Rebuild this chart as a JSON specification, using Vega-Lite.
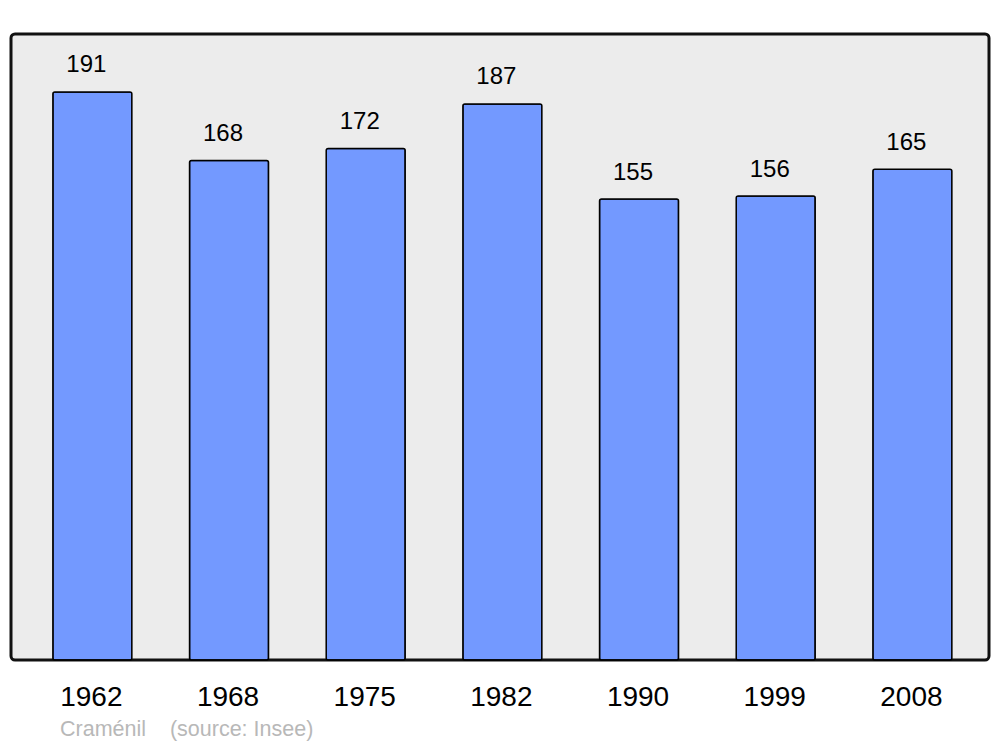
{
  "$schema": "https://vega.github.io/schema/vega-lite/v6.json",
  "width": 978,
  "height": 626,
  "autosize": {"type": "none"},
  "padding": {"left": 11, "top": 34, "right": 11, "bottom": 87},
  "background": "#ffffff",
  "view": {"stroke": "#111111", "strokeWidth": 3, "fill": "#ececec", "cornerRadius": 4},
  "title": {
    "text": "Craménil\u00a0\u00a0\u00a0\u00a0(source: Insee)",
    "orient": "bottom",
    "anchor": "start",
    "frame": "group",
    "dx": 49,
    "offset": 8,
    "font": "Liberation Sans",
    "fontSize": 21.5,
    "fontWeight": "normal",
    "color": "#b8b8b8"
  },
  "data": {
    "values": [
      {"year": "1962", "pop": 191},
      {"year": "1968", "pop": 168},
      {"year": "1975", "pop": 172},
      {"year": "1982", "pop": 187},
      {"year": "1990", "pop": 155},
      {"year": "1999", "pop": 156},
      {"year": "2008", "pop": 165}
    ]
  },
  "encoding": {
    "x": {
      "field": "year",
      "type": "nominal",
      "sort": null,
      "scale": {"paddingInner": 0.422, "paddingOuter": 0.289, "align": 0.53},
      "axis": {
        "title": null,
        "labelAngle": 0,
        "ticks": false,
        "tickSize": 0,
        "domain": false,
        "labelFont": "Liberation Sans",
        "labelFontSize": 28,
        "labelColor": "#000000",
        "labelBaseline": "alphabetic",
        "labelPadding": 45,
        "labelOffset": -1
      }
    },
    "y": {
      "field": "pop",
      "type": "quantitative",
      "scale": {"domain": [0, 210.5], "nice": false, "zero": true},
      "axis": null
    }
  },
  "layer": [
    {
      "mark": {"type": "bar", "fill": "#7399ff", "stroke": "#000000", "strokeWidth": 1.5, "cornerRadius": 2}
    },
    {
      "mark": {"type": "text", "baseline": "alphabetic", "align": "center", "dy": -19.5, "dx": -6, "font": "Liberation Sans", "fontSize": 24, "color": "#000000"},
      "encoding": {"text": {"field": "pop", "type": "quantitative"}}
    }
  ]
}
